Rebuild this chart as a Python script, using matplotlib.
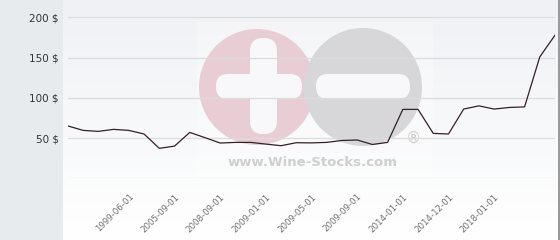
import matplotlib
matplotlib.use("Agg")
import matplotlib.pyplot as plt
import numpy as np
from matplotlib.patches import Rectangle, Circle, FancyBboxPatch

# ---- data ----
prices = [65, 59.5, 58.3, 60.8, 59.5, 55, 37.2, 40, 57, 50.5,
          43.8, 44.6, 44.6, 42.5, 40.5, 44.2, 44, 44.6, 47, 47.6,
          42, 44.6, 85.6, 85.6, 55.8, 55, 86, 90, 86, 88,
          88.7, 150.8, 177.8]
tick_labels = ["1999-06-01", "2005-09-01", "2008-09-01", "2009-01-01",
               "2009-05-01", "2009-09-01", "2014-01-01", "2014-12-01",
               "2018-01-01"]
tick_index_start = 4
tick_index_step = 3
y_ticks = [50, 100, 150, 200]

W, H = 560, 240
fig = plt.figure(figsize=(W / 100, H / 100), dpi=100)

# background / decoration axes in pixel coordinates
bg = fig.add_axes([0, 0, 1, 1], zorder=0)
bg.set_xlim(0, W)
bg.set_ylim(H, 0)
bg.axis("off")
grad = np.linspace(0, 1, 256).reshape(-1, 1)
top = np.array([0.940, 0.945, 0.960])
bot = np.array([1.0, 1.0, 1.0])
img = top[None, None, :] * (1 - grad[:, :, None]) + bot[None, None, :] * grad[:, :, None]
bg.imshow(img, extent=[63, 558, H, 0], aspect="auto", zorder=0)
bg.add_patch(Rectangle((0, 0), 63, H, color="#e7ebee", zorder=1, lw=0))
bg.add_patch(Rectangle((558, 0), 2, H, color="#9a9a9a", zorder=1, lw=0))

# watermark
bg.add_patch(Rectangle((197, 22), 236, 155, color="white", alpha=0.3, lw=0, zorder=1))
bg.add_patch(Circle((257, 87), 58, color="#e9cdd5", lw=0, zorder=2))
bg.add_patch(Circle((363, 87), 59, color="#d7d7d9", lw=0, zorder=2))
bg.add_patch(FancyBboxPatch((216, 74), 86, 25, boxstyle="round,pad=0,rounding_size=12",
                            color="#f8f8fa", lw=0, zorder=3))
bg.add_patch(FancyBboxPatch((250, 38), 27, 96, boxstyle="round,pad=0,rounding_size=13",
                            color="#f8f8fa", lw=0, zorder=3))
bg.add_patch(FancyBboxPatch((316, 74), 94, 25, boxstyle="round,pad=0,rounding_size=12",
                            color="#f8f8fa", lw=0, zorder=3))
bg.text(313, 162, "www.Wine-Stocks.com", ha="center", va="center",
        fontsize=9.5, fontweight="bold", color="#cfcfcf", zorder=3)
bg.text(413, 138, "®", ha="center", va="center", fontsize=11, color="#cccccc", zorder=3)

# main axes: x pixels 68..555, y=0 at pixel 178.3, 200 at 17.3
ppu = (178.3 - 17.3) / 200.0
ax_top_px = 8
ax = fig.add_axes([68 / W, 1 - 178.3 / H, (555 - 68) / W, (178.3 - ax_top_px) / H], zorder=1)
ax.set_facecolor("none")
x = np.arange(len(prices))
ax.plot(x, prices, color="#33202a", lw=0.9, zorder=3)
ax.set_xlim(0, len(prices) - 1)
ax.set_ylim(0, (178.3 - ax_top_px) / ppu)

for v in [0] + y_ticks:
    ax.axhline(v, color="#dcdcdc", lw=0.9, zorder=1)

ax.set_yticks(y_ticks)
ax.set_yticklabels([f"{v} $" for v in y_ticks], fontsize=7.5, color="#333333")
ax.tick_params(axis="y", length=0, pad=6.5)

pos = [tick_index_start + i * tick_index_step for i in range(len(tick_labels))]
ax.set_xticks(pos)
ax.set_xticklabels(tick_labels, rotation=45, ha="right", va="top",
                   rotation_mode="anchor", fontsize=6.2, color="#707070")
ax.tick_params(axis="x", length=0, pad=10)

for s in ax.spines.values():
    s.set_visible(False)

fig.savefig("out.png", dpi=100)
